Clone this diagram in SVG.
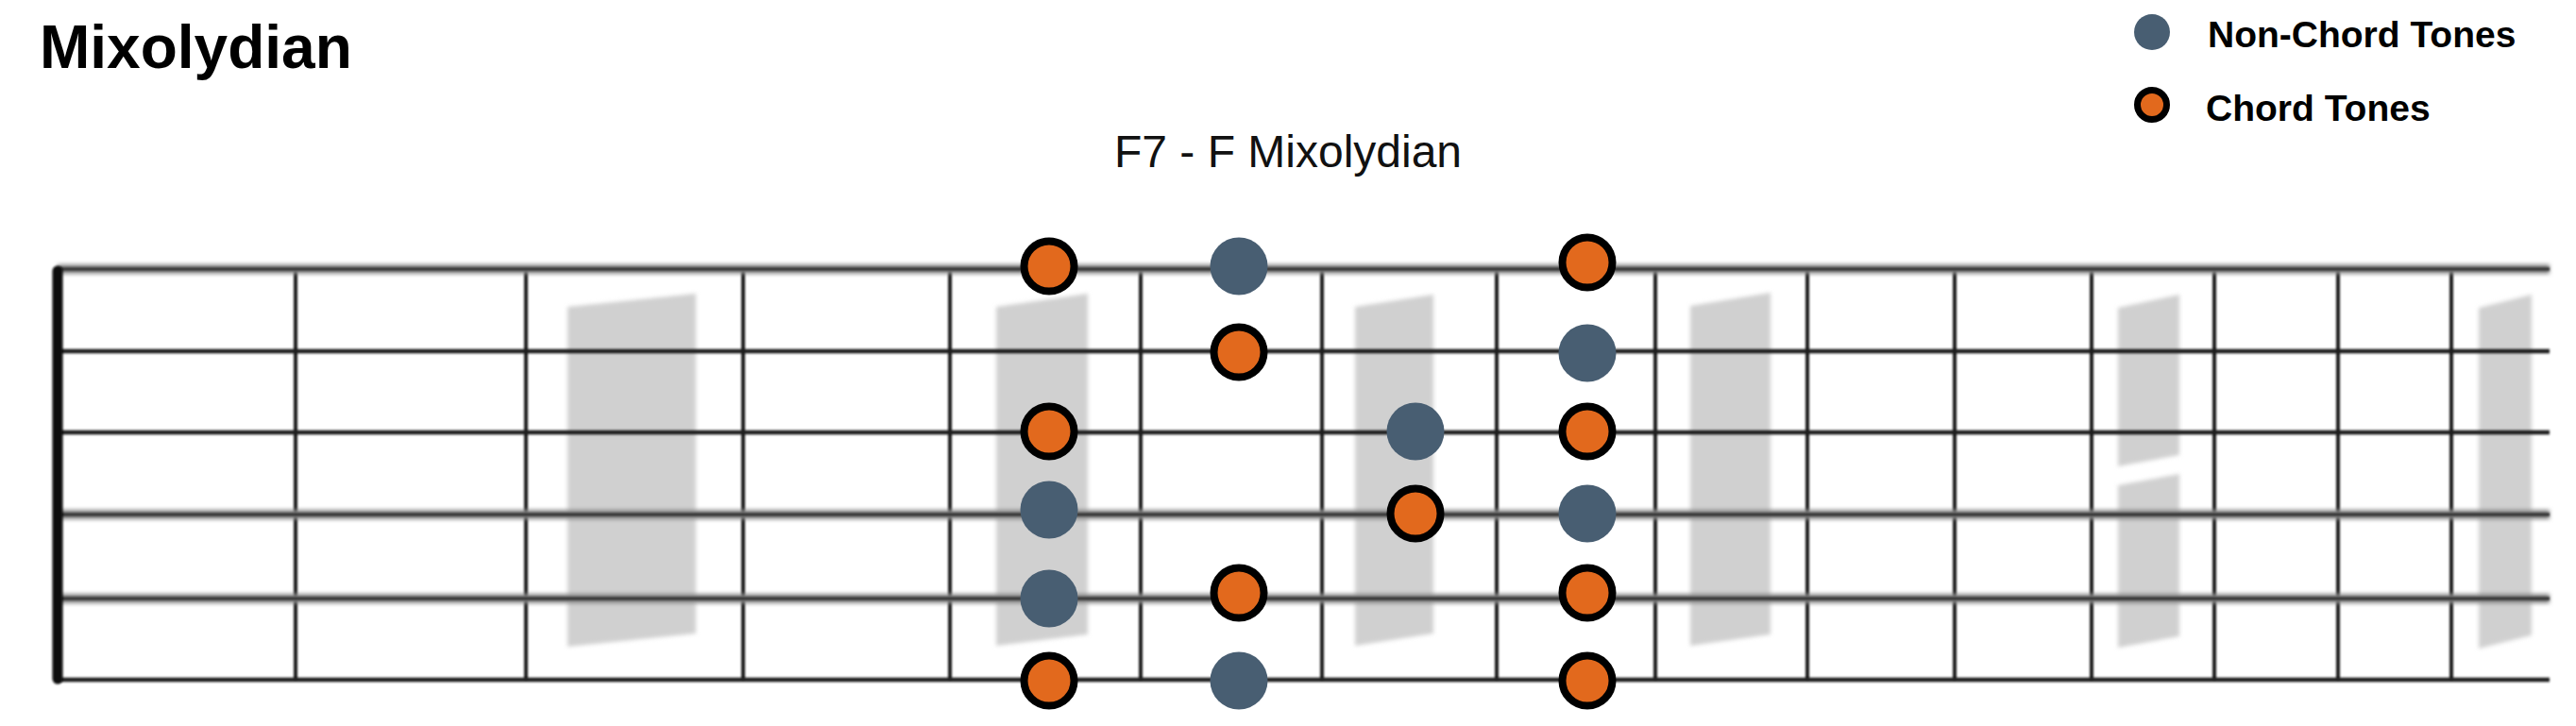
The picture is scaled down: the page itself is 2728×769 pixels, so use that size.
<svg xmlns="http://www.w3.org/2000/svg" width="2728" height="769" viewBox="0 0 2728 769">
<style>
.title{font-family:"Liberation Sans",Arial,sans-serif;font-weight:bold;font-size:64px;fill:#000}
.sub{font-family:"Liberation Sans",Arial,sans-serif;font-size:48px;fill:#111}
.leg{font-family:"Liberation Sans",Arial,sans-serif;font-weight:bold;font-size:39px;fill:#000}
.ct{fill:#E2691D;stroke:#000;stroke-width:8}
.nct{fill:#485E72}
.mark{fill:#D0D0D0}
.fret{stroke:#1e1e1e;stroke-width:4}
.sdark{stroke:#1e1e1e;stroke-width:4.5}
.sgray{stroke:#8a8a8a;stroke-width:10}
.score{stroke:#333;stroke-width:3.5}
</style>
<defs>
<filter id="blurS" filterUnits="userSpaceOnUse" x="0" y="0" width="2728" height="769"><feGaussianBlur stdDeviation="1.1"/></filter>
<filter id="blurM" filterUnits="userSpaceOnUse" x="0" y="0" width="2728" height="769"><feGaussianBlur stdDeviation="2.2"/></filter>
</defs>
<rect width="2728" height="769" fill="#fff"/>
<text class="title" x="42" y="72">Mixolydian</text>
<text class="sub" x="1364" y="177" text-anchor="middle">F7 - F Mixolydian</text>
<g id="legend">
<g id="legend-nct"><circle class="nct" cx="2279" cy="34" r="19"/><text class="leg" x="2338" y="50">Non-Chord Tones</text></g>
<g id="legend-ct"><circle class="ct" cx="2279" cy="111" r="15.5" style="stroke-width:7"/><text class="leg" x="2336" y="128">Chord Tones</text></g>
</g>
<g id="inlays" filter="url(#blurM)">
<polygon class="mark" points="601,325 737,311 737,671 601,685"/>
<polygon class="mark" points="1055,325 1152,311 1152,672 1055,684"/>
<polygon class="mark" points="1435,325 1518,312 1518,671 1435,684"/>
<polygon class="mark" points="1790,324 1875,310 1875,672 1790,684"/>
<polygon class="mark" points="2243,326 2308,312 2308,482 2243,494"/>
<polygon class="mark" points="2243,514 2308,502 2308,674 2243,686"/>
<polygon class="mark" points="2625,326 2681,312 2681,673 2625,687"/>
</g>
<g id="frets" filter="url(#blurS)">
<line class="fret" x1="313" y1="285" x2="313" y2="720"/>
<line class="fret" x1="557" y1="285" x2="557" y2="720"/>
<line class="fret" x1="787" y1="285" x2="787" y2="720"/>
<line class="fret" x1="1006" y1="285" x2="1006" y2="720"/>
<line class="fret" x1="1208" y1="285" x2="1208" y2="720"/>
<line class="fret" x1="1400" y1="285" x2="1400" y2="720"/>
<line class="fret" x1="1585" y1="285" x2="1585" y2="720"/>
<line class="fret" x1="1753" y1="285" x2="1753" y2="720"/>
<line class="fret" x1="1914" y1="285" x2="1914" y2="720"/>
<line class="fret" x1="2070" y1="285" x2="2070" y2="720"/>
<line class="fret" x1="2215" y1="285" x2="2215" y2="720"/>
<line class="fret" x1="2345" y1="285" x2="2345" y2="720"/>
<line class="fret" x1="2476" y1="285" x2="2476" y2="720"/>
<line class="fret" x1="2596" y1="285" x2="2596" y2="720"/>
</g>
<g id="strings">
<g filter="url(#blurM)">
<line class="sgray" x1="61" y1="285" x2="2700" y2="285"/>
<line class="sgray" x1="61" y1="545" x2="2700" y2="545"/>
<line class="sgray" x1="61" y1="634" x2="2700" y2="634"/>
</g>
<g filter="url(#blurS)">
<line class="score" x1="61" y1="285" x2="2700" y2="285"/>
<line class="score" x1="61" y1="545" x2="2700" y2="545"/>
<line class="score" x1="61" y1="634" x2="2700" y2="634"/>
<line class="sdark" x1="61" y1="372" x2="2700" y2="372"/>
<line class="sdark" x1="61" y1="458" x2="2700" y2="458"/>
<line class="sdark" x1="61" y1="720" x2="2700" y2="720"/>
</g>
</g>
<g id="nut" filter="url(#blurS)">
<line x1="61" y1="287" x2="61" y2="719" stroke="#0d0d0d" stroke-width="11" stroke-linecap="round"/>
</g>
<g id="notes">
<g id="n1-1"><circle class="ct" cx="1111" cy="282" r="26.5"/></g>
<g id="n1-3"><circle class="ct" cx="1111" cy="457" r="26.5"/></g>
<g id="n1-4"><circle class="nct" cx="1111" cy="540" r="30.5"/></g>
<g id="n1-5"><circle class="nct" cx="1111" cy="634" r="30.5"/></g>
<g id="n1-6"><circle class="ct" cx="1111" cy="721" r="26.5"/></g>
<g id="n2-1"><circle class="nct" cx="1312" cy="282" r="30.5"/></g>
<g id="n2-2"><circle class="ct" cx="1312" cy="373" r="26.5"/></g>
<g id="n2-5"><circle class="ct" cx="1312" cy="628" r="26.5"/></g>
<g id="n2-6"><circle class="nct" cx="1312" cy="721" r="30.5"/></g>
<g id="n3-3"><circle class="nct" cx="1499" cy="457" r="30.5"/></g>
<g id="n3-4"><circle class="ct" cx="1499" cy="544" r="26.5"/></g>
<g id="n4-1"><circle class="ct" cx="1681" cy="278" r="26.5"/></g>
<g id="n4-2"><circle class="nct" cx="1681" cy="374" r="30.5"/></g>
<g id="n4-3"><circle class="ct" cx="1681" cy="457" r="26.5"/></g>
<g id="n4-4"><circle class="nct" cx="1681" cy="544" r="30.5"/></g>
<g id="n4-5"><circle class="ct" cx="1681" cy="628" r="26.5"/></g>
<g id="n4-6"><circle class="ct" cx="1681" cy="721" r="26.5"/></g>
</g>
</svg>
